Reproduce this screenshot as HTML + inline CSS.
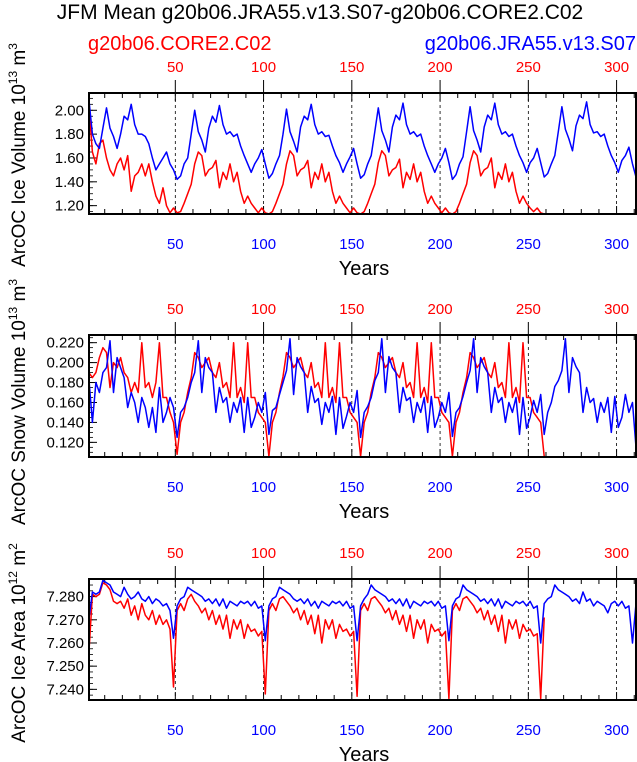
<!DOCTYPE html>
<html><head><meta charset="utf-8"><style>
html,body{margin:0;padding:0;background:#fff;}
svg{display:block;font-family:"Liberation Sans",sans-serif;}
</style></head><body>
<svg id="chart" width="637" height="762" viewBox="0 0 637 762" xmlns="http://www.w3.org/2000/svg">
<text x="320" y="19" font-size="21" text-anchor="middle">JFM Mean g20b06.JRA55.v13.S07-g20b06.CORE2.C02</text>
<text x="88" y="50" font-size="20" fill="#ff0000">g20b06.CORE2.C02</text>
<text x="636" y="50" font-size="20" fill="#0000ff" text-anchor="end">g20b06.JRA55.v13.S07</text>
</svg>
<script>
const yearStart = 1, yearStep = 2;
const iceVolBlue = [2.10,1.80,1.72,1.68,1.85,2.02,1.85,1.78,1.68,1.80,1.95,1.92,2.05,1.88,1.80,1.80,1.78,1.72,1.60,1.50,1.55,1.60,1.65,1.55,1.50,
1.42,1.45,1.55,1.60,1.80,2.00,1.82,1.75,1.65,1.85,1.95,1.90,2.04,1.88,1.80,1.82,1.78,1.80,1.70,1.62,1.55,1.48,1.55,1.60,1.67,1.55,
1.43,1.47,1.55,1.62,1.80,2.01,1.82,1.74,1.65,1.86,1.95,1.92,2.05,1.88,1.80,1.82,1.78,1.79,1.70,1.62,1.56,1.48,1.55,1.61,1.68,1.55,
1.43,1.46,1.55,1.62,1.82,2.02,1.83,1.75,1.65,1.86,1.96,1.92,2.06,1.88,1.80,1.82,1.78,1.80,1.70,1.62,1.55,1.48,1.55,1.60,1.68,1.56,
1.42,1.46,1.55,1.61,1.82,2.03,1.83,1.75,1.65,1.86,1.96,1.92,2.06,1.88,1.80,1.82,1.78,1.80,1.70,1.62,1.56,1.48,1.56,1.60,1.68,1.56,
1.44,1.47,1.55,1.62,1.82,2.03,1.84,1.76,1.66,1.87,1.96,1.93,2.07,1.88,1.81,1.82,1.78,1.80,1.70,1.62,1.56,1.48,1.58,1.62,1.69,1.55,
1.44];
const iceVolRed = [2.05,1.65,1.55,1.72,1.75,1.60,1.50,1.45,1.55,1.60,1.50,1.62,1.32,1.45,1.48,1.55,1.45,1.55,1.40,1.28,1.22,1.35,1.20,1.14,1.18,
1.14,1.15,1.22,1.30,1.38,1.55,1.65,1.62,1.45,1.50,1.52,1.58,1.35,1.48,1.42,1.55,1.40,1.48,1.32,1.22,1.28,1.22,1.18,1.14,1.18,1.14,
1.13,1.15,1.22,1.30,1.38,1.55,1.66,1.62,1.45,1.50,1.52,1.58,1.35,1.48,1.42,1.55,1.40,1.48,1.32,1.22,1.28,1.22,1.18,1.14,1.18,1.14,
1.13,1.15,1.22,1.30,1.38,1.56,1.66,1.62,1.45,1.50,1.52,1.59,1.35,1.48,1.42,1.55,1.40,1.48,1.32,1.22,1.28,1.22,1.18,1.14,1.18,1.14,
1.13,1.15,1.22,1.30,1.38,1.56,1.66,1.62,1.45,1.50,1.52,1.60,1.35,1.48,1.42,1.55,1.40,1.48,1.32,1.22,1.28,1.22,1.18,1.15,1.18,1.14,
1.13];
const snowBlue = [0.185,0.140,0.180,0.170,0.190,0.195,0.222,0.170,0.205,0.195,0.185,0.155,0.170,0.160,0.140,0.165,0.155,0.135,0.155,0.130,0.175,0.140,0.150,0.165,0.155,
0.125,0.150,0.155,0.165,0.180,0.190,0.222,0.170,0.205,0.195,0.190,0.150,0.175,0.160,0.165,0.140,0.160,0.150,0.165,0.130,0.165,0.135,0.145,0.160,0.150,0.170,
0.128,0.152,0.155,0.168,0.180,0.192,0.224,0.168,0.205,0.196,0.190,0.150,0.176,0.160,0.164,0.138,0.160,0.150,0.166,0.128,0.165,0.134,0.146,0.160,0.150,0.172,
0.125,0.150,0.156,0.165,0.182,0.190,0.224,0.170,0.206,0.195,0.190,0.150,0.175,0.162,0.165,0.140,0.160,0.150,0.165,0.130,0.166,0.135,0.145,0.160,0.150,0.170,
0.126,0.150,0.155,0.166,0.180,0.192,0.224,0.170,0.205,0.196,0.190,0.150,0.175,0.160,0.165,0.140,0.160,0.150,0.165,0.128,0.165,0.134,0.145,0.162,0.150,0.168,
0.128,0.150,0.160,0.176,0.182,0.192,0.224,0.170,0.205,0.196,0.190,0.150,0.175,0.160,0.164,0.140,0.160,0.150,0.165,0.130,0.166,0.135,0.145,0.168,0.150,0.160,
0.115];
const snowRed = [0.190,0.185,0.190,0.205,0.215,0.210,0.175,0.200,0.195,0.205,0.190,0.185,0.170,0.180,0.170,0.220,0.175,0.180,0.165,0.180,0.220,0.165,0.165,0.150,0.140,
0.108,0.140,0.150,0.170,0.185,0.210,0.205,0.195,0.200,0.205,0.190,0.185,0.200,0.175,0.180,0.165,0.220,0.165,0.175,0.160,0.220,0.165,0.165,0.150,0.145,0.140,
0.106,0.140,0.150,0.170,0.186,0.210,0.205,0.195,0.200,0.205,0.190,0.185,0.200,0.175,0.180,0.165,0.220,0.165,0.175,0.160,0.220,0.165,0.165,0.150,0.145,0.140,
0.106,0.140,0.150,0.170,0.185,0.210,0.205,0.195,0.200,0.205,0.190,0.185,0.200,0.175,0.180,0.165,0.220,0.165,0.175,0.160,0.220,0.165,0.165,0.150,0.145,0.140,
0.106,0.140,0.150,0.170,0.185,0.210,0.205,0.195,0.200,0.205,0.190,0.185,0.200,0.175,0.180,0.165,0.220,0.165,0.175,0.160,0.220,0.165,0.165,0.150,0.145,0.140,
0.106];
const areaBlue = [7.270,7.282,7.281,7.282,7.287,7.286,7.285,7.282,7.281,7.280,7.284,7.281,7.279,7.280,7.282,7.279,7.278,7.280,7.277,7.279,7.278,7.276,7.277,7.274,7.262,
7.276,7.279,7.280,7.284,7.283,7.282,7.281,7.280,7.278,7.279,7.277,7.279,7.276,7.279,7.275,7.278,7.277,7.276,7.278,7.277,7.278,7.276,7.278,7.275,7.276,7.261,
7.276,7.279,7.280,7.284,7.283,7.282,7.281,7.279,7.278,7.279,7.277,7.279,7.276,7.278,7.275,7.278,7.277,7.276,7.278,7.277,7.278,7.276,7.278,7.275,7.276,7.261,
7.276,7.279,7.281,7.285,7.283,7.282,7.281,7.280,7.278,7.279,7.277,7.279,7.276,7.279,7.275,7.278,7.277,7.276,7.278,7.277,7.278,7.276,7.278,7.275,7.276,7.261,
7.276,7.279,7.280,7.285,7.283,7.282,7.281,7.280,7.278,7.279,7.277,7.279,7.276,7.279,7.275,7.278,7.277,7.276,7.278,7.277,7.278,7.276,7.278,7.275,7.276,7.260,
7.277,7.279,7.280,7.285,7.283,7.282,7.281,7.280,7.278,7.279,7.277,7.282,7.278,7.279,7.276,7.278,7.277,7.276,7.273,7.277,7.278,7.276,7.278,7.275,7.276,7.260,
7.277];
const areaRed = [7.255,7.281,7.280,7.281,7.286,7.285,7.283,7.278,7.277,7.278,7.275,7.279,7.272,7.276,7.270,7.277,7.272,7.270,7.274,7.268,7.272,7.268,7.270,7.266,7.241,
7.274,7.277,7.274,7.279,7.281,7.278,7.276,7.273,7.275,7.270,7.274,7.268,7.272,7.266,7.272,7.262,7.270,7.266,7.270,7.262,7.268,7.265,7.266,7.263,7.265,7.238,
7.274,7.277,7.274,7.279,7.280,7.278,7.276,7.273,7.275,7.270,7.274,7.268,7.272,7.264,7.272,7.260,7.270,7.266,7.270,7.262,7.268,7.265,7.266,7.263,7.265,7.237,
7.274,7.277,7.274,7.279,7.280,7.278,7.276,7.273,7.275,7.270,7.274,7.268,7.272,7.265,7.272,7.262,7.270,7.266,7.270,7.260,7.268,7.265,7.266,7.263,7.265,7.236,
7.274,7.277,7.274,7.279,7.280,7.278,7.276,7.273,7.275,7.270,7.274,7.268,7.272,7.265,7.272,7.260,7.270,7.266,7.270,7.262,7.268,7.265,7.266,7.263,7.264,7.236,
7.271];
const xTickLabels = [50,100,150,200,250,300];
const yTicks1 = [1.20,1.40,1.60,1.80,2.00];
const yTicks2 = [0.120,0.140,0.160,0.180,0.200,0.220];
const yTicks3 = [7.240,7.250,7.260,7.270,7.280];

const NS = "http://www.w3.org/2000/svg";
const svg = document.getElementById('chart');
const L = 89, R = 636, X0 = 1.1, X1 = 311;
function xs(yr){ return L + (yr - X0) / (X1 - X0) * (R - L); }
function mk(tag, attrs, parent){ const e = document.createElementNS(NS, tag); for (const k in attrs) e.setAttribute(k, attrs[k]); (parent||svg).appendChild(e); return e; }

const panels = [
 {name:'ice-volume', top:93, bot:214, lo:1.13, hi:2.145, ticks:yTicks1, minor:0.05, dec:2, blue:iceVolBlue, red:iceVolRed, t1:'ArcOC Ice Volume 10', sup:'13', t2:' m', sup2:'3', tcy:155},
 {name:'snow-volume', top:335, bot:457, lo:0.1053, hi:0.2277, ticks:yTicks2, minor:0.005, dec:3, blue:snowBlue, red:snowRed, t1:'ArcOC Snow Volume 10', sup:'13', t2:' m', sup2:'3', tcy:402},
 {name:'ice-area', top:579, bot:700, lo:7.2354, hi:7.2876, ticks:yTicks3, minor:0.0025, dec:3, blue:areaBlue, red:areaRed, t1:'ArcOC Ice Area 10', sup:'12', t2:' m', sup2:'2', tcy:643}
];

panels.forEach((p, pi) => {
  const g = mk('g', {});
  
  
  const ys = v => p.bot - (v - p.lo) / (p.hi - p.lo) * (p.bot - p.top);
  const cp = mk('clipPath', {id:'clip' + pi}, g);
  mk('rect', {x:L, y:p.top, width:R-L, height:p.bot-p.top}, cp);
  xTickLabels.forEach(v => {
    const l = mk('line', {x1:xs(v), x2:xs(v), y1:p.top, y2:p.bot, stroke:'#000', 'stroke-width':0.8, 'stroke-dasharray':'3,3'}, g);
    
    
  });
  for (let v = 10; v <= 310; v += 10) {
    const major = v % 50 === 0;
    const len = major ? 8 : 5;
    mk('line', {x1:xs(v), x2:xs(v), y1:p.bot, y2:p.bot-len, stroke:'#000', 'stroke-width':1}, g);
    mk('line', {x1:xs(v), x2:xs(v), y1:p.top, y2:p.top+len, stroke:'#000', 'stroke-width':1}, g);
    if (major) mk('line', {x1:xs(v), x2:xs(v), y1:p.top, y2:p.top-13, stroke:'#000', 'stroke-width':1}, g);
  }
  xTickLabels.forEach(v => {
    const t1 = mk('text', {x:xs(v), y:p.top-21, 'font-size':15, fill:'#ff0000', 'text-anchor':'middle'}, g);
    t1.textContent = v;
    
    
    const t2 = mk('text', {x:xs(v), y:p.bot+35, 'font-size':15, fill:'#0000ff', 'text-anchor':'middle'}, g);
    t2.textContent = v;
    
    
  });
  const xt = mk('text', {x:364, y:p.bot+61, 'font-size':20, 'text-anchor':'middle'}, g);
  xt.textContent = 'Years';
  
  
  for (let v = Math.ceil(p.lo / p.minor) * p.minor; v <= p.hi; v += p.minor) {
    mk('line', {x1:L, x2:L+4, y1:ys(v), y2:ys(v), stroke:'#000', 'stroke-width':0.8}, g);
  }
  p.ticks.forEach(v => {
    mk('line', {x1:L, x2:L+8, y1:ys(v), y2:ys(v), stroke:'#000', 'stroke-width':1}, g);
    const t = mk('text', {x:L-5, y:ys(v)+5, 'font-size':15, 'text-anchor':'end'}, g);
    t.textContent = v.toFixed(p.dec);
    
    
  });
  const yt = mk('text', {transform:`translate(25,${p.tcy}) rotate(-90)`, 'font-size':19, 'text-anchor':'middle'}, g);
  
  
  yt.appendChild(document.createTextNode(p.t1));
  const s1 = mk('tspan', {dy:-8, 'font-size':12}, yt); s1.textContent = p.sup;
  const s2 = mk('tspan', {dy:8}, yt); s2.textContent = p.t2;
  const s3 = mk('tspan', {dy:-8, 'font-size':12}, yt); s3.textContent = p.sup2;
  [['red', p.red, '#ff0000'], ['blue', p.blue, '#0000ff']].forEach(([nm, arr, col]) => {
    const pts = arr.map((v, i) => xs(yearStart + i * yearStep).toFixed(1) + ',' + ys(v).toFixed(1)).join(' ');
    const pl = mk('polyline', {points:pts, fill:'none', stroke:col, 'stroke-width':1.5, 'clip-path':`url(#clip${pi})`, 'stroke-linejoin':'round'}, g);
    
    
  });
  const fr = mk('rect', {x:L, y:p.top, width:R-L, height:p.bot-p.top, fill:'none', stroke:'#000', 'stroke-width':2}, g);
  
  
});
</script>
</body></html>
